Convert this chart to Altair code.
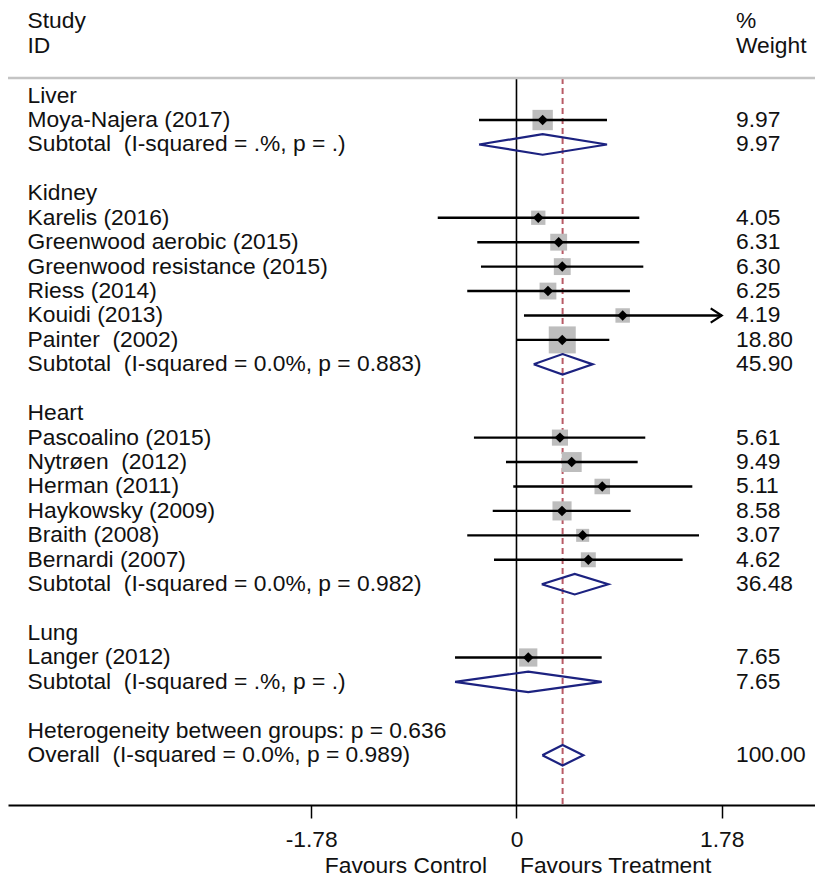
import altair as alt
import pandas as pd

FONT = "Liberation Sans"
FS = 22.8
TXT = "#111111"

# ---------------- data ----------------
groups = ["Liver", "Kidney", "Heart", "Lung"]

study_group = ["Liver",
               "Kidney", "Kidney", "Kidney", "Kidney", "Kidney", "Kidney",
               "Heart", "Heart", "Heart", "Heart", "Heart", "Heart",
               "Lung"]
study_names = ["Moya-Najera (2017)",
               "Karelis (2016)", "Greenwood aerobic (2015)", "Greenwood resistance (2015)",
               "Riess (2014)", "Kouidi (2013)", "Painter\u00a0 (2002)",
               "Pascoalino (2015)", "Nytr\u00f8en\u00a0 (2012)", "Herman (2011)",
               "Haykowsky (2009)", "Braith (2008)", "Bernardi (2007)",
               "Langer (2012)"]
study_es = [0.227, 0.189, 0.366, 0.397, 0.273, 0.921, 0.397,
            0.377, 0.479, 0.744, 0.395, 0.574, 0.623, 0.102]
study_lo = [-0.325, -0.683, -0.340, -0.308, -0.427, 0.065, 0.000,
            -0.369, -0.091, -0.028, -0.206, -0.427, -0.195, -0.533]
# Kouidi's upper limit runs off the plotted range (drawn with an arrow at 1.78)
study_hi = [0.785, 1.065, 1.065, 1.100, 0.984, 1.78, 0.805,
            1.117, 1.051, 1.525, 0.990, 1.583, 1.441, 0.739]
study_arrow = [False, False, False, False, False, True, False,
               False, False, False, False, False, False, False]
study_weight = [9.97, 4.05, 6.31, 6.30, 6.25, 4.19, 18.80,
                5.61, 9.49, 5.11, 8.58, 3.07, 4.62, 7.65]

sub_labels = ["Subtotal\u00a0 (I-squared = .%, p = .)",
              "Subtotal\u00a0 (I-squared = 0.0%, p = 0.883)",
              "Subtotal\u00a0 (I-squared = 0.0%, p = 0.982)",
              "Subtotal\u00a0 (I-squared = .%, p = .)"]
sub_es = [0.227, 0.400, 0.505, 0.102]
sub_lo = [-0.325, 0.149, 0.219, -0.533]
sub_hi = [0.785, 0.661, 0.796, 0.739]
sub_weight = [9.97, 45.90, 36.48, 7.65]

het_label = "Heterogeneity between groups: p = 0.636"
overall_label = "Overall\u00a0 (I-squared = 0.0%, p = 0.989)"
overall_es = 0.400
overall_lo = 0.224
overall_hi = 0.580
overall_weight = 100.00

tick_values = [-1.78, 0, 1.78]

# ---------------- table building ----------------
text_rows, weight_rows, study_rows, diamond_rows = [], [], [], []
row = 0
for gi, g in enumerate(groups):
    text_rows.append({"row": row, "label": g})
    row += 1
    for i, sg in enumerate(study_group):
        if sg != g:
            continue
        text_rows.append({"row": row, "label": study_names[i]})
        weight_rows.append({"row": row, "wt": f"{study_weight[i]:.2f}"})
        study_rows.append({"row": row, "es": study_es[i], "lo": study_lo[i],
                           "hi": study_hi[i], "w": study_weight[i],
                           "arrow": study_arrow[i]})
        row += 1
    text_rows.append({"row": row, "label": sub_labels[gi]})
    weight_rows.append({"row": row, "wt": f"{sub_weight[gi]:.2f}"})
    diamond_rows.append({"row": row, "es": sub_es[gi], "lo": sub_lo[gi],
                         "hi": sub_hi[gi], "grp": g})
    row += 2
text_rows.append({"row": row, "label": het_label})
row += 1
text_rows.append({"row": row, "label": overall_label})
weight_rows.append({"row": row, "wt": f"{overall_weight:.2f}"})
diamond_rows.append({"row": row, "es": overall_es, "lo": overall_lo,
                     "hi": overall_hi, "grp": "Overall"})

H = 0.42  # diamond half height in row units
poly = []
for d in diamond_rows:
    pts = [(d["lo"], d["row"]), (d["es"], d["row"] - H), (d["hi"], d["row"]),
           (d["es"], d["row"] + H), (d["lo"], d["row"])]
    for k, (xx, yy) in enumerate(pts):
        poly.append({"x": xx, "y": yy, "grp": d["grp"], "ord": k})

df_text = pd.DataFrame(text_rows)
df_wt = pd.DataFrame(weight_rows)
df_st = pd.DataFrame(study_rows)
df_poly = pd.DataFrame(poly)
df_ref = pd.DataFrame({"x": [0.0], "ov": [overall_es]})

# ---------------- scales ----------------
W, HT = 807, 797
xs = alt.Scale(domain=[-4.41, 2.589], nice=False, zero=False)
xaxis = alt.Axis(values=tick_values, title=None, grid=False,
                 domainColor="black", domainWidth=2,
                 tickColor="black", tickWidth=1.5, tickSize=13,
                 labelFont=FONT, labelFontSize=FS, labelColor=TXT,
                 labelPadding=10, labelFlush=False, labelOverlap=False,
                 labelExpr="datum.value == 0 ? '0' : (datum.value < 0 ? '-' : '') + format(abs(datum.value), '.2f')")
ys = alt.Scale(domain=[-3.586, 29.038], reverse=True, nice=False, zero=False)


def X(f):
    return alt.X(f, type="quantitative", scale=xs, axis=xaxis)


def Y(f):
    return alt.Y(f, type="quantitative", scale=ys, axis=None)


# ---------------- layers ----------------
zero_rule = alt.Chart(df_ref).mark_rule(color="black", strokeWidth=1.6).encode(
    x=X("x"), y=alt.value(70), y2=alt.value(HT))

dash_rule = alt.Chart(df_ref).mark_rule(color="#b85a66", strokeWidth=2,
                                         strokeDash=[6, 4]).encode(
    x=X("ov"), y=alt.value(70), y2=alt.value(HT))

sep = alt.Chart(df_ref).mark_rule(color="#c4c4c4", strokeWidth=2.5).encode(
    x=alt.value(0), x2=alt.value(W), y=alt.value(70))

boxes = alt.Chart(df_st).mark_point(shape="square", filled=True, color="#bdbdbd",
                                    opacity=1).encode(
    x=X("es"), y=Y("row"),
    size=alt.Size("w:Q", scale=alt.Scale(domain=[0, 18.8], range=[60, 729]), legend=None))

ci = alt.Chart(df_st).mark_rule(color="black", strokeWidth=2.4).encode(
    x=X("lo"), x2="hi", y=Y("row"))

arrows = alt.Chart(df_st).transform_filter("datum.arrow").mark_point(
    shape="M -1 -0.65 L 0 0 L -1 0.65", filled=False, color="black",
    strokeWidth=2.2, size=484, opacity=1).encode(x=X("hi"), y=Y("row"))

dots = alt.Chart(df_st).mark_point(shape="diamond", filled=True, color="black",
                                   size=110, opacity=1).encode(x=X("es"), y=Y("row"))

diam = alt.Chart(df_poly).mark_line(color="#1c2280", strokeWidth=2.2).encode(
    x=X("x"), y=Y("y"), detail="grp:N", order="ord:Q")

labels = alt.Chart(df_text).mark_text(align="left", baseline="middle", font=FONT,
                                      fontSize=FS, color=TXT).encode(
    x=alt.value(19.5), y=Y("row"), text="label:N")

weights = alt.Chart(df_wt).mark_text(align="left", baseline="middle", font=FONT,
                                     fontSize=FS, color=TXT).encode(
    x=alt.value(728), y=Y("row"), text="wt:N")


def fixed_text(t, x, y, align="left", baseline="middle"):
    return alt.Chart(df_ref).mark_text(text=t, align=align, baseline=baseline,
                                       font=FONT, fontSize=FS, color=TXT).encode(
        x=alt.value(x), y=alt.value(y))


headers = [fixed_text("Study", 19.5, 13), fixed_text("ID", 19.5, 37.5),
           fixed_text("%", 728, 13), fixed_text("Weight", 728, 37.5)]
favours = [fixed_text("Favours Control", 479, 865, align="right", baseline="alphabetic"),
           fixed_text("Favours Treatment", 512, 865, align="left", baseline="alphabetic")]

chart = alt.layer(zero_rule, dash_rule, sep, boxes, ci, arrows, dots, diam,
                  labels, weights, *headers, *favours).properties(
    width=W, height=HT, autosize="none",
    padding={"left": 0, "top": 0, "right": 0, "bottom": 72},
    background="white",
).configure_view(stroke=None)

chart.save("out.html", embed_options={"renderer": "svg", "actions": False})
